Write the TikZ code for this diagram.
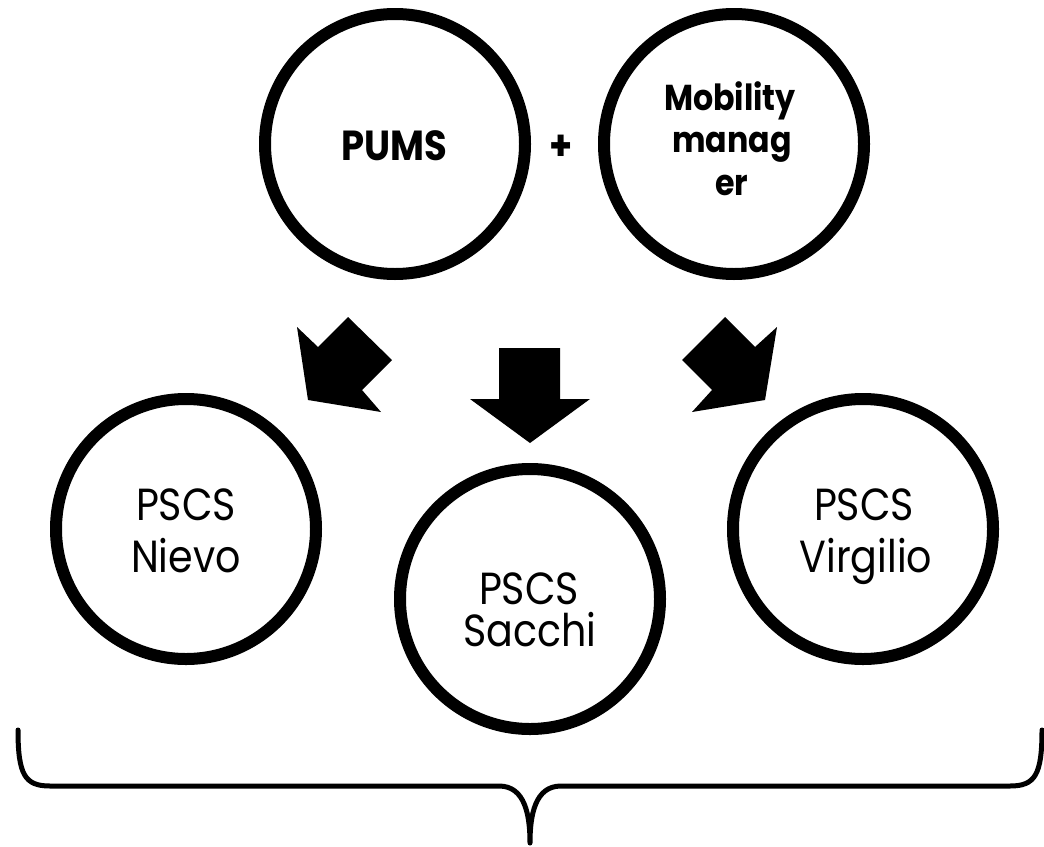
\documentclass[tikz,border=0pt]{standalone}
\usepackage{fontspec}
\newfontfamily\gothic[FakeStretch=0.88]{Poppins}
\begin{document}
\begin{tikzpicture}[x=1pt,y=-1pt,
  ring/.style={circle,draw=black,line width=12pt,minimum size=260pt,inner sep=0pt},
  boldtxt/.style={font=\gothic\bfseries\fontsize{42}{48}\selectfont,inner sep=0pt,anchor=base},
  mobtxt/.style={font=\gothic\bfseries\fontsize{36}{42}\selectfont,inner sep=0pt,anchor=base},
  regtxt/.style={font=\gothic\fontsize{45}{52}\selectfont,inner sep=0pt,anchor=base},
  blockarrow/.style={fill=black,draw=none},
  brace/.style={draw=black,line width=5pt,line join=round,line cap=round}]
\useasboundingbox (0,0) rectangle (1044,846);
% top circles
\node[ring] (pums) at (395,144) {};
\node[ring] (mob) at (734,144) {};
\node[boldtxt] (tpums) at (394,160) {PUMS};
\node[boldtxt] (plus) at (561,160) {+};
\node[mobtxt] (tmob1) at (730,110) {Mobility};
\node[mobtxt] (tmob2) at (732,152) {manag};
\node[mobtxt] (tmob3) at (732,195) {er};
% bottom circles
\node[ring] (nievo) at (186,529) {};
\node[ring] (sacchi) at (530,599) {};
\node[ring] (virgilio) at (863,529) {};
\node[regtxt] (tnievo1) at (186,520) {PSCS};
\node[regtxt] (tnievo2) at (186,572) {Nievo};
\node[regtxt] (tsacchi1) at (529,604) {PSCS};
\node[regtxt] (tsacchi2) at (530,646) {Sacchi};
\node[regtxt] (tvirgilio1) at (864,520) {PSCS};
\node[regtxt] (tvirgilio2) at (866,572) {Virgilio};
% block arrows
\fill[blockarrow] (297,327) -- (318,347) -- (348,317) -- (392,360) -- (362,390) -- (381,412) -- (308,400) -- cycle;
\fill[blockarrow] (499,348) -- (560,348) -- (560,399) -- (590,399) -- (530,443) -- (470,399) -- (499,399) -- cycle;
\fill[blockarrow] (777,327) -- (755,347) -- (725,317) -- (682,360) -- (712,390) -- (692,412) -- (765,400) -- cycle;
% brace
\coordinate (bl) at (18,730);
\coordinate (br) at (1042,730);
\coordinate (btip) at (530,843);
\draw[brace] (bl) .. controls (18,775) and (25,786) .. (50,786) -- (499,786)
  .. controls (525,786) and (530,815) .. (btip)
  .. controls (530,815) and (535,786) .. (561,786) -- (1010,786)
  .. controls (1035,786) and (1042,775) .. (br);
\end{tikzpicture}
\end{document}
